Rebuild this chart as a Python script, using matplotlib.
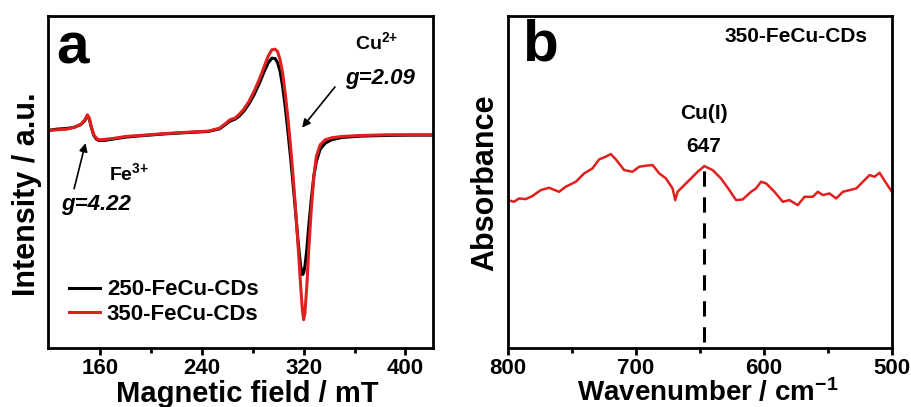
import matplotlib.pyplot as plt
import numpy as np

plt.rcParams['font.family'] = ['Liberation Sans', 'DejaVu Sans']
plt.rcParams['font.weight'] = 'bold'
plt.rcParams['axes.labelweight'] = 'bold'
plt.rcParams['mathtext.fontset'] = 'custom'
plt.rcParams['mathtext.rm'] = 'Liberation Sans:bold'
plt.rcParams['mathtext.bf'] = 'Liberation Sans:bold'
plt.rcParams['mathtext.default'] = 'bf'

# EPR spectra (panel a)
field = [119, 126, 134, 140, 145, 148, 150, 151.5, 153, 155, 157, 159, 163, 170, 180,
         195, 212, 230, 245, 254, 259, 262, 266, 269, 273, 277, 281, 285, 289, 292,
         295, 297.5, 299.5, 301.5, 303.5, 305.5, 307.5, 309.5, 311.5, 313.5, 315.5,
         317.5, 319, 320, 321, 322.5, 324, 326, 328, 330, 333, 337, 342, 350, 365,
         385, 405, 422]
int_350 = [0.08, 0.10, 0.12, 0.18, 0.27, 0.40, 0.55, 0.45, 0.20, -0.05, -0.15, -0.20,
           -0.19, -0.16, -0.10, -0.06, -0.01, 0.03, 0.06, 0.15, 0.30, 0.40, 0.45, 0.55,
           0.72, 0.95, 1.25, 1.60, 2.00, 2.30, 2.50, 2.52, 2.45, 2.20, 1.80, 1.20, 0.50,
           -0.30, -1.20, -2.20, -3.30, -4.50, -5.30, -5.60, -5.40, -4.60, -3.50, -2.30,
           -1.30, -0.70, -0.35, -0.20, -0.14, -0.10, -0.07, -0.05, -0.05, -0.05]
int_250 = [0.08, 0.12, 0.14, 0.18, 0.26, 0.38, 0.52, 0.42, 0.18, -0.07, -0.18, -0.22,
           -0.22, -0.18, -0.12, -0.07, -0.02, 0.02, 0.05, 0.13, 0.27, 0.36, 0.42, 0.50,
           0.66, 0.88, 1.15, 1.48, 1.85, 2.10, 2.25, 2.24, 2.12, 1.85, 1.40, 0.80, 0.10,
           -0.65, -1.45, -2.30, -3.20, -3.95, -4.25, -4.20, -4.00, -3.50, -2.80, -2.00,
           -1.30, -0.85, -0.48, -0.30, -0.20, -0.13, -0.09, -0.07, -0.06, -0.06]

# FTIR spectrum (panel b)
wavenumber = [800, 795.3, 791.4, 786.2, 781.0, 774.4, 767.9, 760.1, 754.9, 747.0, 740.5,
              734.0, 728.8, 723.6, 719.7, 715.7, 709.2, 702.7, 697.5, 692.3, 687.0, 681.8,
              676.6, 671.4, 669.3, 667.5, 664.9, 658.3, 651.8, 646.6, 640.1, 633.6, 627.0,
              621.8, 616.6, 610.1, 606.2, 602.3, 598.3, 591.8, 585.3, 580.1, 573.6, 568.3,
              561.8, 557.9, 554.0, 548.8, 543.6, 538.3, 533.1, 527.9, 521.4, 517.5, 513.6,
              509.7, 504.4, 500]
absorb = [4.43, 4.38, 4.48, 4.46, 4.55, 4.73, 4.80, 4.68, 4.83, 4.98, 5.23, 5.38, 5.65,
          5.73, 5.81, 5.65, 5.33, 5.28, 5.43, 5.46, 5.48, 5.23, 5.08, 4.78, 4.43, 4.68,
          4.78, 5.03, 5.28, 5.45, 5.33, 5.08, 4.73, 4.43, 4.45, 4.68, 4.78, 4.98, 4.93,
          4.68, 4.38, 4.43, 4.28, 4.53, 4.53, 4.68, 4.58, 4.63, 4.48, 4.68, 4.73, 4.78,
          5.03, 5.18, 5.13, 5.25, 4.93, 4.68]
cu_peak = 647

red = '#e0201e'

fig = plt.figure(figsize=(9.11, 4.07), dpi=100)
ax1 = fig.add_axes([0.0527, 0.145, 0.423, 0.816])
ax2 = fig.add_axes([0.5576, 0.145, 0.4215, 0.816])

for ax in (ax1, ax2):
    for s in ax.spines.values():
        s.set_linewidth(2.0)
    ax.tick_params(axis='x', which='major', direction='out', length=5, width=2,
                   labelsize=16, pad=2)
    ax.tick_params(axis='x', which='minor', direction='out', length=3.5, width=2)
    ax.set_yticks([])

# panel a
ax1.plot(field, int_250, color='black', lw=2.2, label='250-FeCu-CDs')
ax1.plot(field, int_350, color=red, lw=2.2, label='350-FeCu-CDs')
ax1.set_xlim(119, 422)
ax1.set_ylim(-6.45, 3.52)
ax1.set_xticks([160, 240, 320, 400])
ax1.set_xticks([200, 280, 360], minor=True)
ax1.set_xlabel('Magnetic field / mT', fontsize=21)
ax1.xaxis.set_label_coords(0.517, -0.097)
ax1.set_ylabel('Intensity / a.u.', fontsize=22)
ax1.yaxis.set_label_coords(-0.016, 0.464)
ax1.text(0.022, 0.858, 'a', transform=ax1.transAxes, fontsize=42, fontweight='bold',
         ha='left', va='baseline')
ax1.legend(loc='lower left', bbox_to_anchor=(0.02, 0.03), frameon=False, fontsize=16,
           handlelength=1.4, handletextpad=0.3, borderaxespad=0.2, labelspacing=0.15)

ax1.text(377.7, 2.72, 'Cu$^{2{+}}$', fontsize=14, ha='center', va='center')
ax1.text(380.3, 1.63, 'g=2.09', fontsize=16, style='italic', ha='center', va='center')
ax1.annotate('', xy=(317.4, 0.1), xytext=(346, 1.45),
             arrowprops=dict(arrowstyle='-|>', color='black', lw=1.2, mutation_scale=12))
ax1.text(182.8, -1.2, 'Fe$^{3{+}}$', fontsize=14, ha='center', va='center')
ax1.text(156.9, -2.15, 'g=4.22', fontsize=16, style='italic', ha='center', va='center')
ax1.annotate('', xy=(149, -0.22), xytext=(139, -1.75),
             arrowprops=dict(arrowstyle='-|>', color='black', lw=1.2, mutation_scale=12))

# panel b
ax2.plot(wavenumber, absorb, color=red, lw=1.8)
ax2.set_xlim(800, 500)
ax2.set_ylim(0, 9.95)
ax2.set_xticks([800, 700, 600, 500])
ax2.set_xticks([750, 650, 550], minor=True)
ax2.set_xlabel('Wavenumber / cm$^{-1}$', fontsize=20)
ax2.xaxis.set_label_coords(0.52, -0.092)
ax2.set_ylabel('Absorbance', fontsize=22)
ax2.yaxis.set_label_coords(-0.019, 0.497)
ax2.text(0.036, 0.867, 'b', transform=ax2.transAxes, fontsize=42, fontweight='bold',
         ha='left', va='baseline')
ax2.text(0.75, 0.937, '350-FeCu-CDs', transform=ax2.transAxes, fontsize=15,
         ha='center', va='center')
ax2.vlines(cu_peak, 0.18, 5.45, colors='black', linestyles=(0, (5, 3.5)), lw=2.2)
ax2.text(cu_peak, 6.03, '647', fontsize=15, ha='center', va='center')
ax2.text(cu_peak, 7.03, 'Cu(I)', fontsize=15, ha='center', va='center')

fig.savefig('out.png', dpi=100)
